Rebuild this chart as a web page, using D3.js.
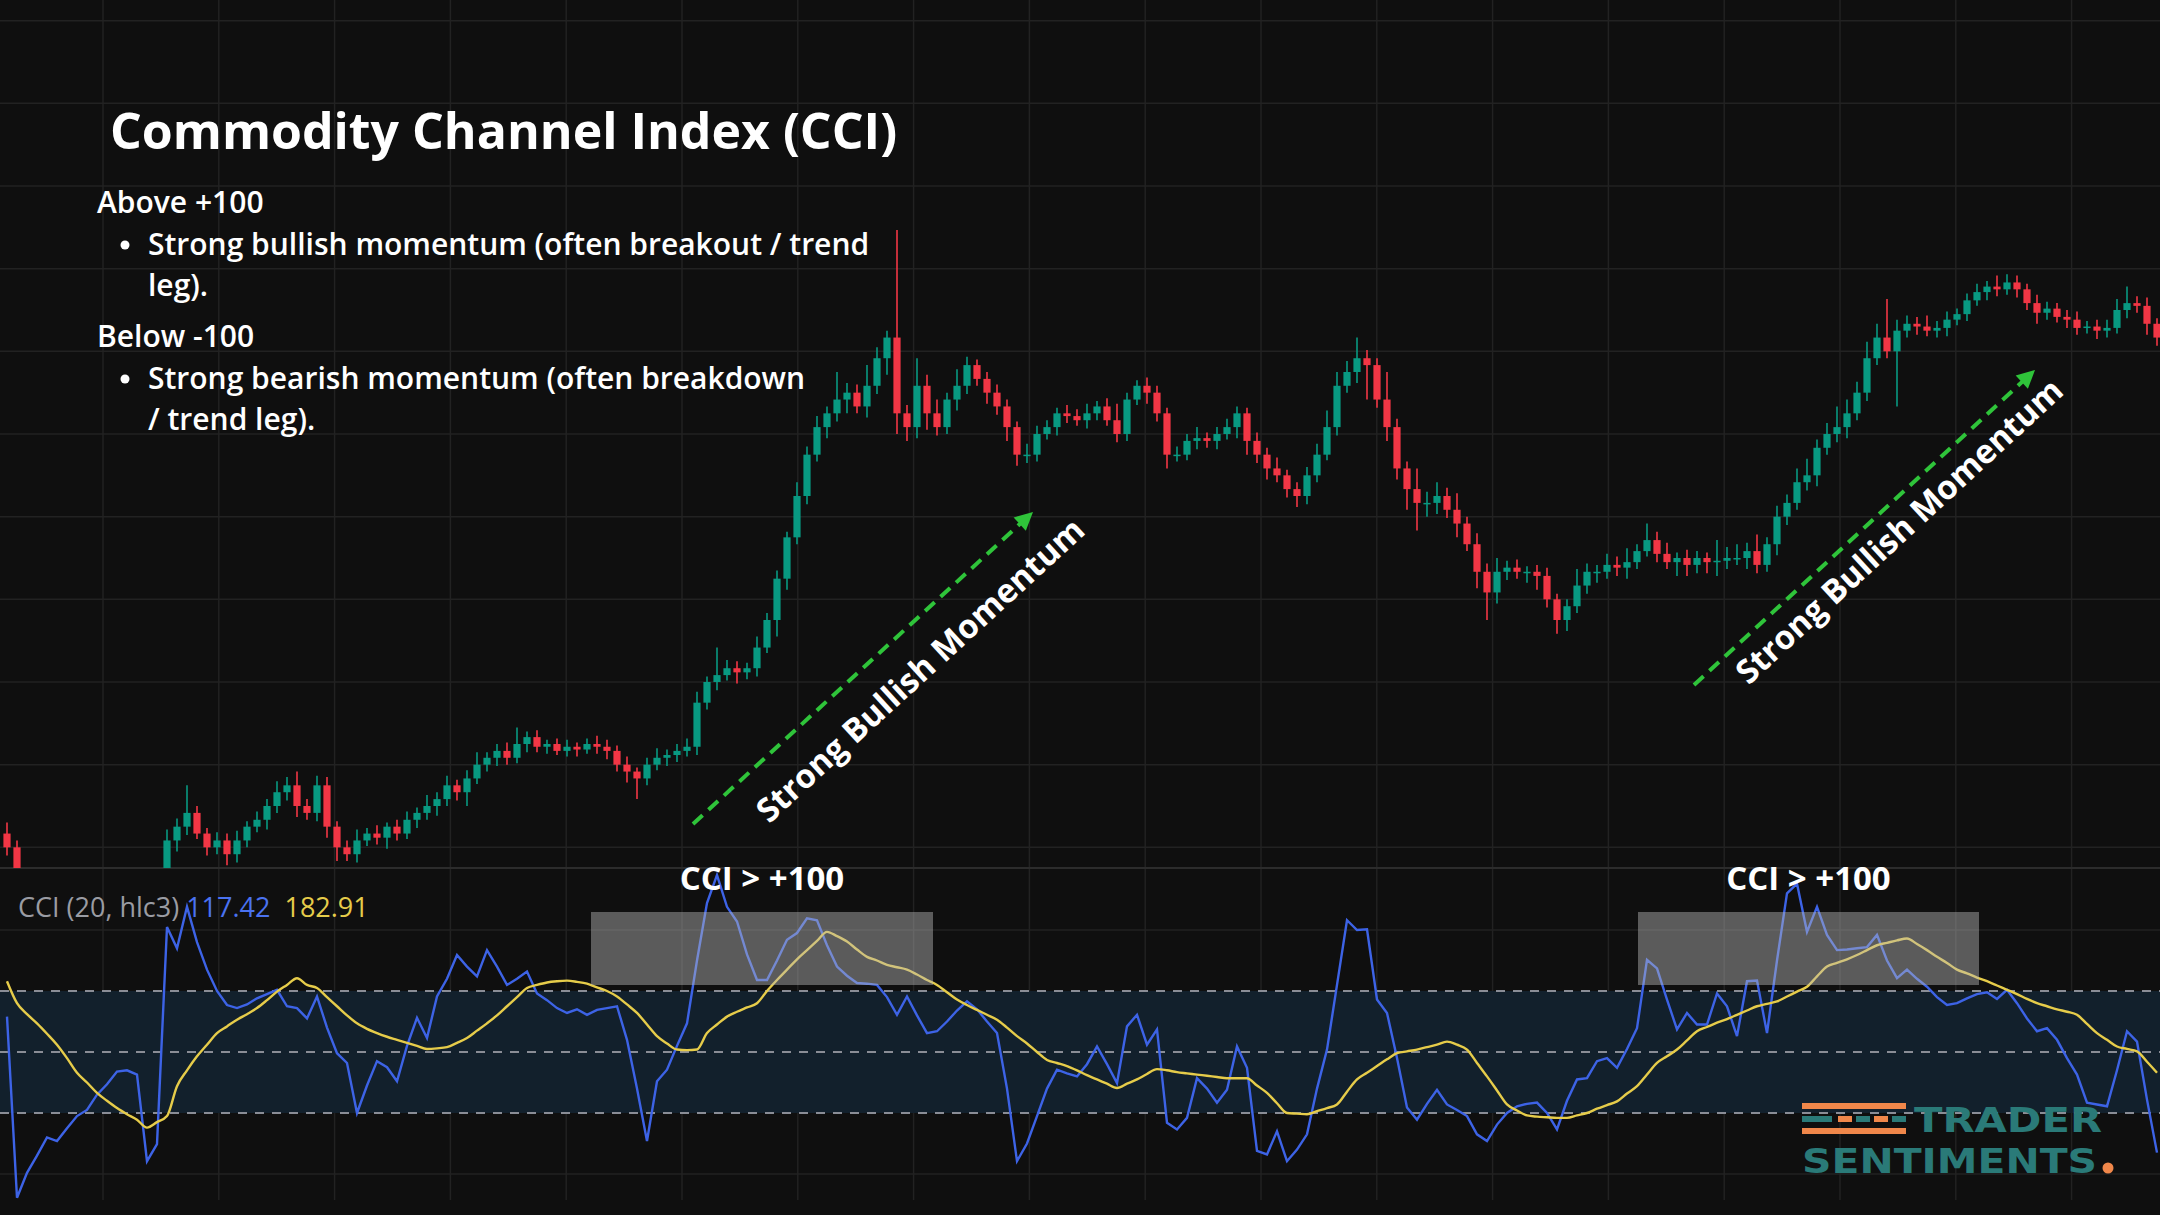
<!DOCTYPE html>
<html><head><meta charset="utf-8">
<script src="https://cdn.jsdelivr.net/npm/d3@7"></script>
<style>html,body{margin:0;padding:0;background:#0f0f0f;overflow:hidden}</style>
</head><body>
<svg id="c" width="2160" height="1215"></svg>
<script>
const closes=[15,-40,-55,-70,-60,-50,-65,-80,-70,-55,-45,-60,-50,-35,-25,-15,20,30,40,25,15,20,10,20,30,35,45,55,60,45,40,60,30,15,10,20,25,22,30,25,35,40,45,50,60,55,65,75,80,85,80,90,95,88,90,85,88,86,90,88,85,75,70,65,75,80,82,85,88,120,135,140,145,142,145,160,180,210,240,270,300,320,330,340,345,335,350,370,385,330,320,350,330,320,340,350,365,355,345,335,320,300,300,315,320,330,328,325,330,335,325,315,340,350,345,330,300,300,310,312,310,315,320,330,310,300,290,285,275,270,285,300,320,350,360,370,365,340,320,290,275,265,265,270,260,250,235,215,200,215,218,215,215,212,195,180,190,205,215,215,220,218,222,230,238,228,222,225,220,225,222,223,225,225,230,220,235,255,265,280,285,305,315,320,330,345,370,385,375,390,395,393,390,392,398,402,412,418,422,420,425,420,410,403,406,400,398,392,393,390,392,405,410,408,395,385];
const firstOpen=25;
const wickUp=[8,5,6,4,7,5,6,4,5,6,5,4,6,7,5,6,8,6,20,5,4,6,5,7,4,6,5,8,6,10,5,7,6,4,5,8,4,6,3,5,6,4,8,5,7,4,6,9,4,5,6,12,4,5,3,4,5,3,4,6,5,4,6,3,5,7,4,5,6,8,4,20,6,5,4,8,5,6,4,10,6,8,5,20,7,6,15,8,5,78,6,20,8,10,5,12,6,4,5,6,5,4,8,6,5,4,6,5,7,4,6,12,5,4,6,5,4,6,5,8,4,5,6,5,4,6,5,8,4,5,6,8,12,10,8,15,6,5,20,6,5,15,8,10,6,12,5,8,6,10,5,6,4,5,6,4,5,12,6,5,8,6,10,5,12,6,8,4,6,5,4,15,8,10,6,12,5,8,6,10,12,6,8,15,10,8,12,10,28,8,6,5,8,5,6,4,5,6,4,8,6,5,4,6,5,4,5,6,4,5,6,8,12,5,6,4];
const wickDown=[6,5,6,4,5,7,5,6,4,5,6,5,4,6,5,6,5,8,6,4,6,5,8,6,5,4,7,5,6,8,5,6,8,10,5,6,4,5,8,5,4,6,5,7,5,6,10,4,5,6,5,4,6,4,5,3,4,5,3,5,6,5,8,15,5,4,6,5,4,6,5,6,4,8,5,6,4,12,8,5,6,5,8,6,10,5,8,6,12,15,10,8,12,6,5,8,6,5,8,6,10,8,6,5,4,6,5,4,6,5,4,6,5,4,8,6,10,5,4,6,5,6,4,8,10,6,8,5,6,8,6,5,4,6,5,8,25,6,10,8,15,20,10,8,6,10,5,12,20,8,6,5,8,10,6,10,8,5,6,8,5,6,8,5,4,6,5,10,8,6,8,10,6,5,8,6,5,8,6,5,6,8,5,6,8,5,6,5,5,40,5,6,4,5,6,4,5,4,6,5,4,6,5,8,5,4,6,5,4,6,5,4,6,5,8,6];
const cci=[58,-239,-198,-170,-140,-146,-125,-105,-95,-70,-53,-32,-30,-37,-179,-151,205,170,238,180,135,100,77,72,78,88,95,102,75,72,55,91,40,-2,-18,-100,-55,-15,-25,-48,10,56,23,91,120,159,140,124,167,140,110,120,132,96,85,72,64,70,61,69,72,75,20,-60,-146,-48,-29,10,47,150,244,290,238,214,160,118,118,150,184,195,219,216,175,140,125,113,112,110,90,61,91,60,31,34,50,68,83,70,50,31,-60,-179,-150,-105,-60,-29,-35,-40,-20,9,-20,-51,42,61,12,37,-116,-127,-108,-43,-60,-83,-62,9,-26,-162,-168,-130,-179,-160,-135,-60,4,110,216,200,201,86,64,-10,-91,-111,-85,-62,-86,-95,-105,-135,-146,-119,-100,-89,-85,-83,-100,-127,-80,-45,-43,-15,-10,-26,5,39,151,137,86,37,64,45,45,96,75,26,116,117,31,150,260,276,197,238,192,167,168,170,172,192,150,121,135,120,107,90,77,80,88,95,98,87,102,80,55,34,39,20,-10,-37,-83,-86,-89,-30,34,17,-78,-165];
const cciMA=[116,80,62,47,30,12,-10,-34,-50,-67,-80,-92,-102,-111,-124,-115,-105,-56,-30,-7,12,31,42,53,62,72,85,99,110,121,110,105,90,75,60,47,38,31,25,20,15,10,5,6,8,15,23,35,47,60,75,90,105,110,114,116,117,115,112,106,100,91,78,64,45,26,14,4,3,4,31,45,58,66,73,80,100,118,135,152,167,182,197,190,181,168,156,150,143,139,135,127,118,110,98,86,77,69,61,53,40,26,14,0,-13,-18,-23,-30,-38,-45,-52,-59,-52,-45,-36,-28,-30,-33,-35,-37,-39,-41,-43,-43,-43,-55,-67,-84,-100,-101,-102,-97,-92,-86,-65,-45,-34,-23,-12,-2,1,4,8,12,17,12,4,-18,-40,-63,-86,-96,-104,-106,-107,-108,-108,-104,-100,-93,-87,-81,-68,-56,-37,-18,-7,4,19,34,41,48,54,61,68,75,79,83,91,99,107,124,140,146,152,159,167,175,179,183,186,177,167,156,146,135,129,122,116,109,102,95,87,80,75,70,66,61,46,31,20,9,5,1,-16,-34];
const priceGrid=[15,75,135,195,255,315,375,435,495,555,615];
const cciLevels=[100,0,-100];
const cciGrid=[200,-200];
const highlightRanges=[[58.4,92.6],[163.1,197.2]];
const legendValues=["117.42","182.91"];
const title="Commodity Channel Index (CCI)";
const notes=[{h:"Above +100",b:["Strong bullish momentum (often breakout / trend","leg)."]},{h:"Below -100",b:["Strong bearish momentum (often breakdown","/ trend leg)."]}];

const svg=d3.select("#c");
const W=2160,H=1215,paneY=868;
const x=d3.scaleLinear().domain([0,215]).range([7,2157]);
const yP=d3.scaleLinear().domain([0,630]).range([868,0]);
const yC=d3.scaleLinear().domain([-100,100]).range([1113,991]);
svg.append("rect").attr("width",W).attr("height",H).attr("fill","#0f0f0f");
const defs=svg.append("defs");
defs.append("clipPath").attr("id","cp").append("rect").attr("x",0).attr("y",0).attr("width",W).attr("height",paneY);
defs.append("clipPath").attr("id","cc").append("rect").attr("x",0).attr("y",paneY+1).attr("width",W).attr("height",H-paneY);
const vg=d3.range(9.6,216,11.58);
svg.append("g").selectAll("line").data(vg).join("line").attr("x1",d=>x(d)).attr("x2",d=>x(d)).attr("y1",0).attr("y2",1200).attr("stroke","#222").attr("stroke-width",1.5);
svg.append("g").selectAll("line").data(priceGrid).join("line").attr("x1",0).attr("x2",W).attr("y1",d=>yP(d)).attr("y2",d=>yP(d)).attr("stroke","#222").attr("stroke-width",1.5);
svg.append("g").selectAll("line").data(cciGrid).join("line").attr("x1",0).attr("x2",W).attr("y1",d=>yC(d)).attr("y2",d=>yC(d)).attr("stroke","#222").attr("stroke-width",1.5);
svg.append("line").attr("x1",0).attr("x2",W).attr("y1",paneY).attr("y2",paneY).attr("stroke","#2c2c2c").attr("stroke-width",2);
const candles=closes.map((c,i)=>{const o=i?closes[i-1]:firstOpen;return{i,o,c,h:Math.max(o,c)+wickUp[i],l:Math.min(o,c)-wickDown[i]};});
const cg=svg.append("g").attr("clip-path","url(#cp)");
const col=d=>d.c>=d.o?"#089981":"#f23645";
cg.selectAll("line").data(candles).join("line").attr("x1",d=>x(d.i)).attr("x2",d=>x(d.i)).attr("y1",d=>yP(d.h)).attr("y2",d=>yP(d.l)).attr("stroke",col).attr("stroke-width",1.6);
cg.selectAll("rect").data(candles).join("rect").attr("x",d=>x(d.i)-3.6).attr("width",7.2).attr("y",d=>yP(Math.max(d.o,d.c))).attr("height",d=>Math.max(1.5,Math.abs(yP(d.o)-yP(d.c)))).attr("fill",col);
const ccg=svg.append("g").attr("clip-path","url(#cc)");
ccg.append("rect").attr("x",0).attr("width",W).attr("y",yC(100)).attr("height",yC(-100)-yC(100)).attr("fill","#12202c");
ccg.selectAll("line.lv").data(cciLevels).join("line").attr("x1",0).attr("x2",W).attr("y1",d=>yC(d)).attr("y2",d=>yC(d)).attr("stroke","#8a8d96").attr("stroke-width",2).attr("stroke-dasharray","9,8");
const ln=d3.line().x((d,i)=>x(i)).y(d=>yC(d));
ccg.append("path").datum(cci).attr("d",ln).attr("fill","none").attr("stroke","#3d63e6").attr("stroke-width",2.4);
ccg.append("path").datum(cciMA).attr("d",ln.curve(d3.curveMonotoneX)).attr("fill","none").attr("stroke","#e6cc4a").attr("stroke-width",2.4);
svg.selectAll("rect.hl").data(highlightRanges).join("rect").attr("x",d=>x(d[0])).attr("width",d=>x(d[1])-x(d[0])).attr("y",912).attr("height",73).attr("fill","rgba(185,185,185,0.45)");
svg.selectAll("text.hl").data(highlightRanges).join("text").attr("x",d=>(x(d[0])+x(d[1]))/2).attr("y",890).attr("text-anchor","middle").attr("fill","#fff").attr("font-family","Open Sans").attr("font-weight",700).attr("font-size",33).text("CCI > +100");
const lg=svg.append("text").attr("x",18).attr("y",917).attr("font-family","Open Sans").attr("font-size",27);
lg.append("tspan").attr("fill","#9a9ca3").text("CCI (20, hlc3) ");
lg.append("tspan").attr("fill","#4a72f0").text(legendValues[0]);
lg.append("tspan").attr("fill","#e6cc4a").attr("dx",14).text(legendValues[1]);
svg.append("text").attr("x",110).attr("y",149).attr("fill","#fff").attr("font-family","Open Sans").attr("font-weight",700).attr("font-size",50).text(title);
let yy=213;
notes.forEach(n=>{
  svg.append("text").attr("x",97).attr("y",yy).attr("fill","#fff").attr("font-family","Open Sans").attr("font-weight",600).attr("font-size",30).text(n.h);
  yy+=42;
  n.b.forEach((b,k)=>{
    if(k===0) svg.append("circle").attr("cx",125).attr("cy",yy-10).attr("r",4.5).attr("fill","#fff");
    svg.append("text").attr("x",148).attr("y",yy).attr("fill","#fff").attr("font-family","Open Sans").attr("font-weight",600).attr("font-size",30).text(b);
    yy+=41;
  });
  yy+=10;
});
const arrows=[{x1:693,y1:824,x2:1033,y2:512,tx:922,ty:672},{x1:1694,y1:685,x2:2035,y2:370,tx:1901,ty:533}];
arrows.forEach(a=>{
  const ang=Math.atan2(a.y2-a.y1,a.x2-a.x1),deg=ang*180/Math.PI;
  svg.append("line").attr("x1",a.x1).attr("y1",a.y1).attr("x2",a.x2-12*Math.cos(ang)).attr("y2",a.y2-12*Math.sin(ang)).attr("stroke","#2fc43a").attr("stroke-width",4).attr("stroke-dasharray","13,8");
  svg.append("path").attr("d","M0,0 L-18,-9 L-18,9 Z").attr("fill","#2fc43a").attr("transform",`translate(${a.x2},${a.y2}) rotate(${deg})`);
  svg.append("text").attr("transform",`translate(${a.tx},${a.ty}) rotate(${deg})`).attr("text-anchor","middle").attr("dominant-baseline","middle").attr("fill","#fff").attr("font-family","Open Sans").attr("font-weight",700).attr("font-size",33).text("Strong Bullish Momentum");
});
const wm=svg.append("g");
wm.append("rect").attr("x",1802).attr("y",1103).attr("width",104).attr("height",6).attr("fill","#f0874a");
[[1802,30],[1838,14],[1856,14],[1874,14],[1892,14]].forEach((r,k)=>wm.append("rect").attr("x",r[0]).attr("y",1116).attr("width",r[1]).attr("height",6).attr("fill",k%2?"#f0874a":"#2a7a78"));
wm.append("rect").attr("x",1802).attr("y",1128).attr("width",104).attr("height",6).attr("fill","#f0874a");
wm.append("text").attr("x",1914).attr("y",1132).attr("textLength",188).attr("lengthAdjust","spacingAndGlyphs").attr("fill","#2a7a78").attr("font-family","DejaVu Sans Condensed").attr("font-weight",700).attr("font-size",34).text("TRADER");
wm.append("text").attr("x",1802).attr("y",1173).attr("textLength",295).attr("lengthAdjust","spacingAndGlyphs").attr("fill","#2a7a78").attr("font-family","DejaVu Sans Condensed").attr("font-weight",700).attr("font-size",34).text("SENTIMENTS");
wm.append("circle").attr("cx",2108).attr("cy",1168).attr("r",5.5).attr("fill","#f0874a");
</script></body></html>
